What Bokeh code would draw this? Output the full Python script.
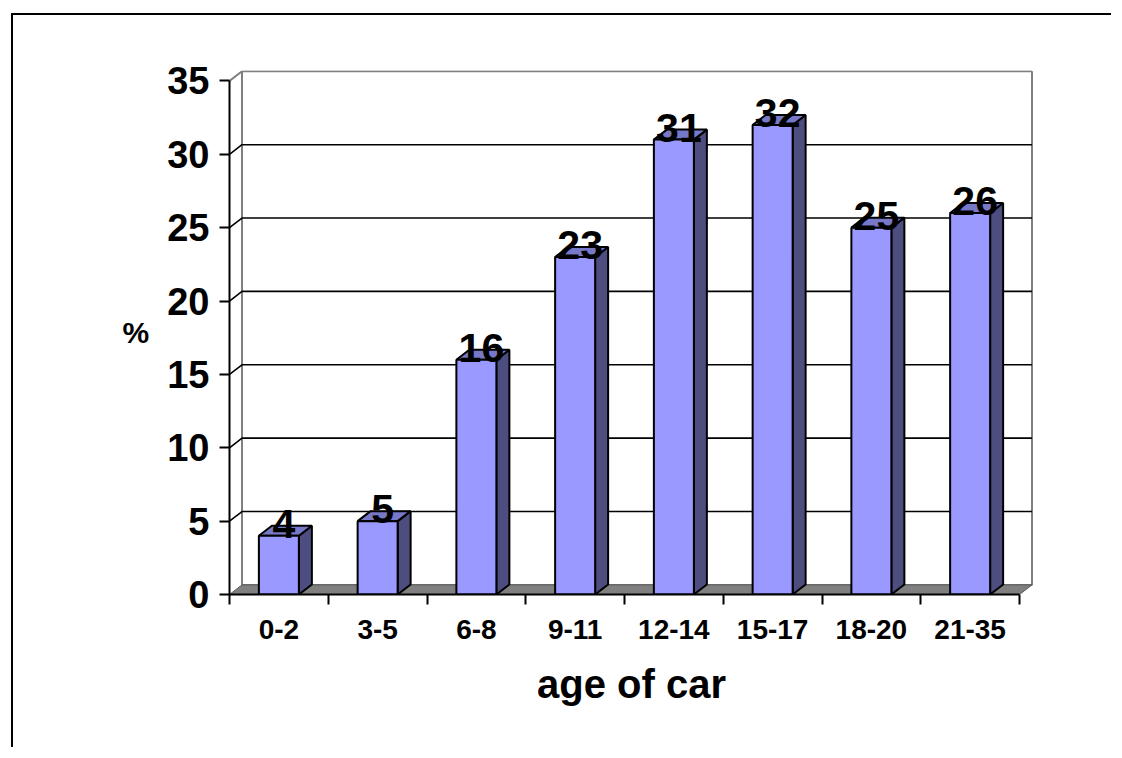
from bokeh.plotting import figure
from bokeh.models import Range1d, FixedTicker, ColumnDataSource
from bokeh.embed import file_html
from bokeh.resources import INLINE
from bokeh.core.properties import value

# ---- data ----
categories = ["0-2", "3-5", "6-8", "9-11", "12-14", "15-17", "18-20", "21-35"]
percent = [4, 5, 16, 23, 31, 32, 25, 26]
y_ticks = [0, 5, 10, 15, 20, 25, 30, 35]
x_title = "age of car"
y_title = "%"

# ---- layout / style constants ----
W, H = 1100, 734
PX_X = 98.75          # px per category
PX_Y = 14.674         # px per percent
BL, BT, BR, BB = 216, 55, 80, 155
frame_w = W - BL - BR
frame_h = H - BT - BB
n = len(categories)
x_end = frame_w / PX_X
y_end = frame_h / PX_Y

WDX, WDY = 12.5 / PX_X, 9.6 / PX_Y     # wall depth
BDX, BDY = 13.0 / PX_X, 10.0 / PX_Y    # bar depth
HW = 20.0 / PX_X                       # bar half width

FONT = "Liberation Sans"
FRONT, TOP, SIDE = "#9999FF", "#7878C8", "#4D4D80"

p = figure(width=W, height=H, output_backend="svg", toolbar_location=None,
           x_range=Range1d(0, x_end), y_range=Range1d(0, y_end),
           min_border_left=BL, min_border_top=BT, min_border_right=BR,
           min_border_bottom=BB)
p.styles = {"border-left": "2px solid black", "border-top": "2px solid black",
            "transform": "translate(11px, 13px)"}
p.outline_line_color = None
p.xgrid.visible = False
p.ygrid.visible = False

# ---- walls ----
top = y_ticks[-1]
p.line([0, WDX, WDX, n + WDX, n + WDX], [top, top + WDY, WDY, WDY, top + WDY],
       line_color="#808080", line_width=2)
p.line([WDX, n + WDX], [top + WDY, top + WDY], line_color="#808080", line_width=2)
grid_xs, grid_ys = [], []
for v in y_ticks[1:-1]:
    grid_xs.append([0, WDX, n + WDX])
    grid_ys.append([v, v + WDY, v + WDY])
p.multi_line(grid_xs, grid_ys, line_color="black", line_width=1.6)

# floor
p.patch([0, n, n + WDX, WDX], [0, 0, WDY, WDY], fill_color="#808080",
        line_color="#5a5a5a", line_width=1)

# ---- bars ----
cx = [i + 0.5 for i in range(n)]
side_xs, side_ys, top_xs, top_ys = [], [], [], []
for c, v in zip(cx, percent):
    side_xs.append([c + HW, c + HW + BDX, c + HW + BDX, c + HW])
    side_ys.append([0, BDY, v + BDY, v])
    top_xs.append([c - HW, c + HW, c + HW + BDX, c - HW + BDX])
    top_ys.append([v, v, v + BDY, v + BDY])
p.patches(side_xs, side_ys, fill_color=SIDE, line_color="black", line_width=2)
p.patches(top_xs, top_ys, fill_color=TOP, line_color="black", line_width=2)
src = ColumnDataSource(dict(x=cx, top=percent, lab=[str(v) for v in percent]))
p.vbar(x="x", top="top", bottom=0, width=2 * HW, source=src,
       fill_color=FRONT, line_color="black", line_width=2)

p.text(x="x", y="top", text="lab", source=src, x_offset=5, y_offset=-12,
       text_font=value(FONT), text_font_style="bold", text_font_size="41px",
       text_align="center", text_baseline="middle", text_color="black")

# ---- axes ----
xa = p.xaxis[0]
xa.ticker = FixedTicker(ticks=cx, minor_ticks=list(range(n + 1)))
xa.major_label_overrides = {c: lab for c, lab in zip(cx, categories)}
xa.bounds = (0, n)
xa.major_tick_in = 0
xa.major_tick_out = 0
xa.minor_tick_in = 0
xa.minor_tick_out = 10
xa.minor_tick_line_color = "black"
xa.minor_tick_line_width = 2
xa.axis_line_color = "black"
xa.axis_line_width = 2
xa.major_label_text_font = FONT
xa.major_label_text_font_style = "bold"
xa.major_label_text_font_size = "28px"
xa.major_label_text_color = "black"
xa.major_label_standoff = 15
xa.axis_label = x_title
xa.axis_label_text_font = FONT
xa.axis_label_text_font_style = "bold"
xa.axis_label_text_font_size = "40px"
xa.axis_label_text_color = "black"
xa.axis_label_standoff = 20

ya = p.yaxis[0]
ya.ticker = FixedTicker(ticks=y_ticks)
ya.bounds = (y_ticks[0], y_ticks[-1])
ya.major_tick_in = 0
ya.major_tick_out = 10
ya.major_tick_line_color = "black"
ya.major_tick_line_width = 2
ya.minor_tick_line_color = None
ya.axis_line_color = "black"
ya.axis_line_width = 2
ya.major_label_text_font = FONT
ya.major_label_text_font_style = "bold"
ya.major_label_text_font_size = "38px"
ya.major_label_text_color = "black"
ya.major_label_standoff = 10
ya.axis_label = y_title
ya.axis_label_orientation = "horizontal"
ya.axis_label_text_font = FONT
ya.axis_label_text_font_style = "bold"
ya.axis_label_text_font_size = "30px"
ya.axis_label_text_color = "black"
ya.axis_label_standoff = 15

open("out.html", "w").write(file_html(p, INLINE))
